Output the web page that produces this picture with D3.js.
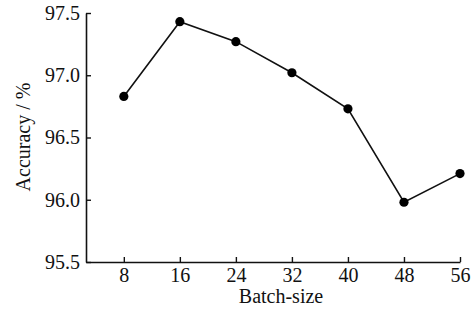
<!DOCTYPE html>
<html>
<head>
<meta charset="utf-8" />
<style>
  html, body { margin: 0; background: #fff; }
  text { font-family: "Liberation Serif", "Times New Roman", serif; fill: #111; }
</style>
</head>
<body>
<div id="chart"></div>
<script src="https://cdn.jsdelivr.net/npm/d3@7/dist/d3.min.js"></script>
<script>
var batchSizes = [8, 16, 24, 32, 40, 48, 56];
var accuracy = [96.83, 97.43, 97.27, 97.02, 96.73, 95.98, 96.21];
var yTicks = [95.5, 96.0, 96.5, 97.0, 97.5];

var width = 473, height = 310;
var mLeft = 86, mRight = 460, mTop = 13, mBottom = 262;

var svg = d3.select("#chart").append("svg")
    .attr("width", width)
    .attr("height", height);

var x = d3.scaleLinear().domain([2.6, 56]).range([mLeft, mRight]);
var y = d3.scaleLinear().domain([95.5, 97.5]).range([mBottom, mTop]);

// ticks point inward on both axes
var xAxis = svg.append("g")
    .attr("transform", "translate(0," + mBottom + ")")
    .call(d3.axisBottom(x).tickValues(batchSizes).tickSizeInner(-5).tickSizeOuter(0).tickPadding(6));
xAxis.select(".domain").attr("stroke", "#111").attr("stroke-width", 1.6);
xAxis.selectAll(".tick line").attr("stroke", "#111").attr("stroke-width", 1.4);
xAxis.selectAll("text").attr("font-size", 20).style("font-family", "Liberation Serif").attr("fill", "#111");

var yAxis = svg.append("g")
    .attr("transform", "translate(" + mLeft + ",0)")
    .call(d3.axisLeft(y).tickValues(yTicks).tickFormat(d3.format(".1f")).tickSizeInner(-5).tickSizeOuter(0).tickPadding(6));
yAxis.select(".domain").attr("stroke", "#111").attr("stroke-width", 1.6);
yAxis.selectAll(".tick line").attr("stroke", "#111").attr("stroke-width", 1.4);
yAxis.selectAll("text").attr("font-size", 20).style("font-family", "Liberation Serif").attr("fill", "#111");

svg.append("text")
    .attr("x", (mLeft + mRight) / 2 + 8)
    .attr("y", 303)
    .attr("text-anchor", "middle")
    .attr("font-size", 20)
    .text("Batch-size");

svg.append("text")
    .attr("transform", "translate(30,137) rotate(-90)")
    .attr("text-anchor", "middle")
    .attr("font-size", 20)
    .text("Accuracy / %");

var pts = batchSizes.map(function(b, i) { return [b, accuracy[i]]; });

var line = d3.line()
    .x(function(d) { return x(d[0]); })
    .y(function(d) { return y(d[1]); });

svg.append("path")
    .datum(pts)
    .attr("d", line)
    .attr("fill", "none")
    .attr("stroke", "#111")
    .attr("stroke-width", 1.6);

svg.selectAll("circle")
    .data(pts)
  .enter().append("circle")
    .attr("cx", function(d) { return x(d[0]); })
    .attr("cy", function(d) { return y(d[1]); })
    .attr("r", 4.6)
    .attr("fill", "#000");
</script>
</body>
</html>
